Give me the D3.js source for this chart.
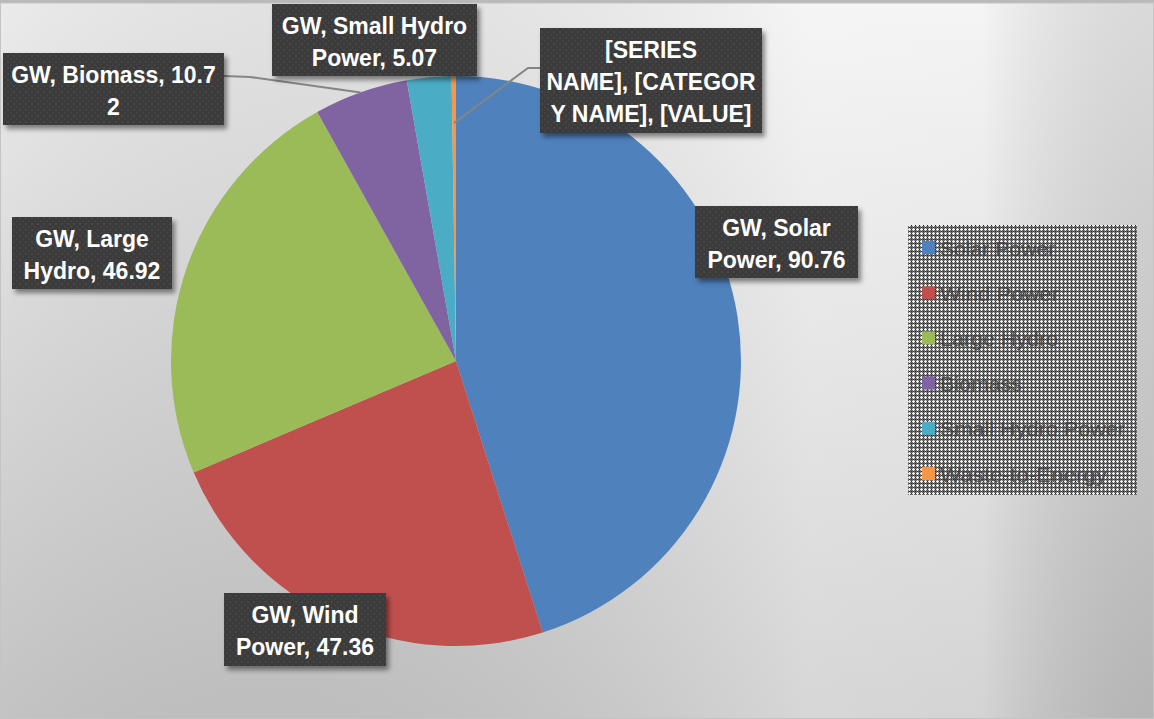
<!DOCTYPE html>
<html>
<head>
<meta charset="utf-8">
<script src="https://cdn.jsdelivr.net/npm/d3@7"></script>
<style>
  html, body { margin: 0; padding: 0; background: #ffffff; }
  svg { display: block; }
</style>
</head>
<body>
<div id="chart"></div>
<script>
// data
const categories = ["Solar Power", "Wind Power", "Large Hydro", "Biomass", "Small Hydro Power", "Waste-to-Energy"];
const values = [90.76, 47.36, 46.92, 10.72, 5.07, 0.5];
const seriesName = "GW";
const labelLines = [
    ["GW, Solar", "Power, 90.76"],
    ["GW, Wind", "Power, 47.36"],
    ["GW, Large", "Hydro, 46.92"],
    ["GW, Biomass, 10.7", "2"],
    ["GW, Small Hydro", "Power, 5.07"],
    ["[SERIES", "NAME], [CATEGOR", "Y NAME], [VALUE]"]
];
const colors = ["#4f81bd", "#c0504d", "#9bbb59", "#8064a2", "#4bacc6", "#f79646"];

// layout of the label boxes (x, y, w, h) and leader line style
const labelBoxes = [
    { x: 695, y: 206, w: 163, h: 72, leader: false },
    { x: 224, y: 593, w: 162, h: 73, leader: false },
    { x: 12, y: 217, w: 160, h: 72, leader: false },
    { x: 3, y: 53, w: 221, h: 72, leader: true, side: "right", inner: 1.0 },
    { x: 272, y: 4, w: 205, h: 72, leader: false },
    { x: 540, y: 28, w: 222, h: 105, leader: true, side: "left", inner: 0.835 }
];

const width = 1154, height = 719;
const cx = 456, cy = 361, radius = 285;

const svg = d3.select("#chart").append("svg")
    .attr("width", width).attr("height", height);

const defs = svg.append("defs");

// background gradients
const bgV = defs.append("linearGradient").attr("id", "bgV")
    .attr("x1", 0).attr("y1", 0).attr("x2", 0).attr("y2", 1);
bgV.append("stop").attr("offset", "0%").attr("stop-color", "#f2f2f2");
bgV.append("stop").attr("offset", "100%").attr("stop-color", "#c9c9c9");

const bgH = defs.append("linearGradient").attr("id", "bgH")
    .attr("x1", 0).attr("y1", 0).attr("x2", 1).attr("y2", 0);
bgH.append("stop").attr("offset", "0%").attr("stop-color", "#000").attr("stop-opacity", 0.03);
bgH.append("stop").attr("offset", "70%").attr("stop-color", "#fff").attr("stop-opacity", 0.25);
bgH.append("stop").attr("offset", "85%").attr("stop-color", "#fff").attr("stop-opacity", 0.2);
bgH.append("stop").attr("offset", "100%").attr("stop-color", "#000").attr("stop-opacity", 0.1);

// dotted texture for label boxes
const dots = defs.append("pattern").attr("id", "dots")
    .attr("width", 6).attr("height", 6).attr("patternUnits", "userSpaceOnUse");
dots.append("rect").attr("width", 6).attr("height", 6).attr("fill", "#3b3b3b");
dots.append("rect").attr("x", 1).attr("y", 1).attr("width", 2).attr("height", 2).attr("fill", "#474747");
dots.append("rect").attr("x", 4).attr("y", 4).attr("width", 2).attr("height", 2).attr("fill", "#434343");

// hatch texture for legend
const hatch = defs.append("pattern").attr("id", "hatch")
    .attr("width", 4).attr("height", 4).attr("patternUnits", "userSpaceOnUse");
hatch.append("rect").attr("width", 4).attr("height", 4).attr("fill", "#6e6e6e");
[[1, 0], [0, 1], [1, 1], [2, 1], [1, 2]].forEach(([px, py]) => {
    hatch.append("rect").attr("x", px).attr("y", py).attr("width", 1).attr("height", 1).attr("fill", "#ececec");
});
[[3, 3], [3, 1], [1, 3]].forEach(([px, py]) => {
    hatch.append("rect").attr("x", px).attr("y", py).attr("width", 1).attr("height", 1).attr("fill", "#2a2a2a");
});

// drop shadow
const shadow = defs.append("filter").attr("id", "shadow")
    .attr("x", "-10%").attr("y", "-10%").attr("width", "130%").attr("height", "140%");
shadow.append("feDropShadow").attr("dx", 3).attr("dy", 4).attr("stdDeviation", 2.5)
    .attr("flood-color", "#000").attr("flood-opacity", 0.45);

// background
svg.append("rect").attr("width", width).attr("height", height).attr("fill", "url(#bgV)");
svg.append("rect").attr("width", width).attr("height", height).attr("fill", "url(#bgH)");
svg.append("rect").attr("x", 0).attr("y", 0).attr("width", width).attr("height", 3).attr("fill", "#b9b9b9");
svg.append("rect").attr("x", 0.5).attr("y", 3).attr("width", width - 1).attr("height", height - 3.5)
    .attr("fill", "none").attr("stroke", "#c4c4c4").attr("stroke-width", 1);

// pie
const pie = d3.pie().sort(null).value(d => d).startAngle(0).endAngle(2 * Math.PI);
const arcs = pie(values);
const arc = d3.arc().innerRadius(0).outerRadius(radius);

const g = svg.append("g").attr("transform", `translate(${cx},${cy})`);
g.selectAll("path.slice")
    .data(arcs)
    .join("path")
    .attr("class", "slice")
    .attr("d", arc)
    .attr("fill", (d, i) => colors[i]);

// leader lines
arcs.forEach((d, i) => {
    const b = labelBoxes[i];
    if (!b.leader) return;
    const mid = (d.startAngle + d.endAngle) / 2;
    const r = radius * b.inner;
    const px = cx + r * Math.sin(mid);
    const py = cy - r * Math.cos(mid);
    const ay = b.y + b.h * (b.side === "right" ? 0.32 : 0.38);
    const ax = b.side === "right" ? b.x + b.w : b.x;
    const bx = b.side === "right" ? ax + 26 : ax - 12;
    const by = b.side === "right" ? ay + 1 : ay;
    svg.append("path")
        .attr("d", d3.line()([[ax, ay], [bx, by], [px, py]]))
        .attr("fill", "none")
        .attr("stroke", "#858585")
        .attr("stroke-width", 2);
});

// data labels
const labels = svg.append("g")
    .style("font-family", "'Liberation Sans', Arial, sans-serif")
    .style("font-weight", "bold")
    .style("font-size", "23px");

labelBoxes.forEach((b, i) => {
    const lg = labels.append("g");
    lg.append("rect")
        .attr("x", b.x).attr("y", b.y).attr("width", b.w).attr("height", b.h)
        .attr("fill", "url(#dots)")
        .attr("filter", "url(#shadow)");
    labelLines[i].forEach((line, j) => {
        lg.append("text")
            .attr("x", b.x + b.w / 2)
            .attr("y", b.y + 30 + j * 32)
            .attr("text-anchor", "middle")
            .attr("fill", "#ffffff")
            .text(line);
    });
});

// legend
const legend = svg.append("g");
legend.append("rect")
    .attr("x", 908).attr("y", 225).attr("width", 229).attr("height", 270)
    .attr("fill", "url(#hatch)");

const legendY = d3.scalePoint().domain(categories).range([248, 474]);
const legendTextWidths = [115, 119, 118, 82, 185, 167];

const items = legend.selectAll("g.item")
    .data(categories)
    .join("g")
    .attr("class", "item")
    .attr("transform", d => `translate(922,${legendY(d)})`);

items.append("rect")
    .attr("x", 0).attr("y", -7).attr("width", 13).attr("height", 13)
    .attr("fill", (d, i) => colors[i]);

items.append("text")
    .attr("x", 18)
    .attr("y", 7.5)
    .attr("fill", "#404040")
    .attr("fill-opacity", 0.85)
    .style("font-family", "'Liberation Sans', Arial, sans-serif")
    .style("font-size", "21px")
    .attr("textLength", (d, i) => legendTextWidths[i])
    .attr("lengthAdjust", "spacingAndGlyphs")
    .text(d => d);
</script>
</body>
</html>
